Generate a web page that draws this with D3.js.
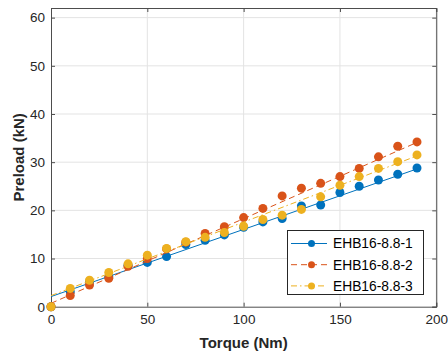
<!DOCTYPE html>
<html><head><meta charset="utf-8">
<script src="https://cdn.jsdelivr.net/npm/d3@7"></script>
<style>body{margin:0;background:#fff}svg{display:block}</style>
</head><body>
<script>
const torque = [0,10,20,30,40,50,60,70,80,90,100,110,120,130,140,150,160,170,180,190];
const preload1 = [0,3.1,5.2,6.2,8.6,9.2,10.4,12.9,13.8,14.9,16.5,17.6,18.3,20.9,21.1,23.7,25.0,26.3,27.5,28.8];
const preload2 = [0,2.3,4.5,5.9,8.4,10.0,12.0,13.4,15.2,16.6,18.5,20.4,23.0,24.6,25.6,27.0,28.7,31.1,33.3,34.2];
const preload3 = [0,3.8,5.5,7.1,8.9,10.7,12.1,13.5,14.4,15.4,16.7,18.1,19.0,20.2,22.8,25.2,27.0,28.7,30.1,31.5];
// fit line endpoints: [torque, preload]
const fit1 = [[0,2.1],[190,28.6]];
const fit2 = [[0,0.7],[190,34.1]];
const fit3 = [[0,2.3],[190,31.3]];
const seriesNames = ["EHB16-8.8-1","EHB16-8.8-2","EHB16-8.8-3"];
const xTicks = [0,50,100,150,200];
const yTicks = [0,10,20,30,40,50,60];

const colors = ["#0072BD","#D95319","#EDB120"];
const dashes = [null,"6,4","6,3,1.5,3"];
const W=448,H=358;
const L=51,R=436.25,T=8,B=306.7;
const svg=d3.select("body").append("svg").attr("width",W).attr("height",H);
const x=d3.scaleLinear().domain([0,200]).range([L,R]);
const y=d3.scaleLinear().domain([0,62]).range([B,T]);
const font="'Liberation Sans', Arial, Helvetica, sans-serif";
const tc="#262626";

// grid
svg.append("g").selectAll("line").data(xTicks.slice(1)).join("line")
  .attr("x1",d=>x(d)).attr("x2",d=>x(d)).attr("y1",T).attr("y2",B)
  .attr("stroke","#e3e3e3").attr("stroke-width",1);
svg.append("g").selectAll("line").data(yTicks.slice(1)).join("line")
  .attr("x1",L).attr("x2",R).attr("y1",d=>y(d)).attr("y2",d=>y(d))
  .attr("stroke","#e3e3e3").attr("stroke-width",1);

// axes
const xAx=d3.axisBottom(x).tickValues(xTicks).tickSize(-4).tickPadding(8).tickFormat(d3.format("d"));
const yAx=d3.axisLeft(y).tickValues(yTicks).tickSize(-4).tickPadding(6).tickFormat(d3.format("d"));
const gx=svg.append("g").attr("transform",`translate(0,${B})`).call(xAx);
const gy=svg.append("g").attr("transform",`translate(${L},0)`).call(yAx);
const gx2=svg.append("g").attr("transform",`translate(0,${T})`).call(d3.axisTop(x).tickValues(xTicks).tickSize(-4).tickFormat(""));
const gy2=svg.append("g").attr("transform",`translate(${R},0)`).call(d3.axisRight(y).tickValues(yTicks).tickSize(-4).tickFormat(""));
[gx,gy,gx2,gy2].forEach(g=>{
  g.select(".domain").attr("stroke","#4d4d4d").attr("stroke-width",1);
  g.selectAll(".tick line").attr("stroke","#4d4d4d");
  g.selectAll("text").attr("font-family",font).attr("font-size","13.5px").attr("fill",tc);
});

// series
const sets=[[preload1,fit1],[preload2,fit2],[preload3,fit3]];
sets.forEach(([vals,fit],i)=>{
  svg.append("line").attr("x1",x(fit[0][0])).attr("y1",y(fit[0][1]))
    .attr("x2",x(fit[1][0])).attr("y2",y(fit[1][1]))
    .attr("stroke",colors[i]).attr("stroke-width",1)
    .attr("stroke-dasharray",dashes[i]);
  svg.append("g").selectAll("circle").data(vals).join("circle")
    .attr("cx",(d,j)=>x(torque[j])).attr("cy",d=>y(d)).attr("r",4.5)
    .attr("fill",colors[i]);
});

// legend
const lg=svg.append("g");
lg.append("rect").attr("x",287.5).attr("y",230.5).attr("width",136).attr("height",64)
  .attr("fill","#fff").attr("stroke","#262626").attr("stroke-width",1);
seriesNames.forEach((n,i)=>{
  const cy=243.5+i*21.2;
  lg.append("line").attr("x1",291).attr("x2",327).attr("y1",cy).attr("y2",cy)
    .attr("stroke",colors[i]).attr("stroke-width",1).attr("stroke-dasharray",dashes[i]);
  lg.append("circle").attr("cx",311.5).attr("cy",cy).attr("r",3.5).attr("fill",colors[i]);
  lg.append("text").attr("x",333).attr("y",cy).attr("dy","0.36em")
    .attr("font-family",font).attr("font-size","13.8px").attr("fill","#000").text(n);
});

// titles
svg.append("text").attr("x",(L+R)/2).attr("y",343).attr("dy","0.36em").attr("text-anchor","middle")
  .attr("font-family",font).attr("font-weight","bold").attr("font-size","15px").attr("fill",tc).text("Torque (Nm)");
svg.append("text").attr("transform",`translate(18.7,${(T+B)/2}) rotate(-90)`).attr("dy","0.36em")
  .attr("text-anchor","middle").attr("font-family",font).attr("font-weight","bold").attr("font-size","15px")
  .attr("fill",tc).text("Preload (kN)");
</script>
</body></html>
